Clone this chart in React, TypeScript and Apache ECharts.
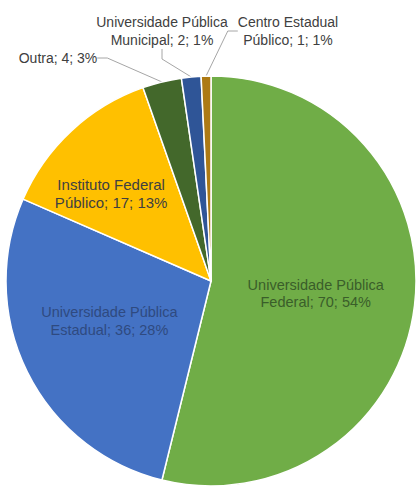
import React, { useEffect, useRef } from "react";
import * as echarts from "echarts";

const names = [
  "Universidade Pública Federal",
  "Universidade Pública Estadual",
  "Instituto Federal Público",
  "Outra",
  "Universidade Pública Municipal",
  "Centro Estadual Público",
];
const values = [70, 36, 17, 4, 2, 1];
const percents = [54, 28, 13, 3, 1, 1];
const colors = ["#70AD47", "#4472C4", "#FFC000", "#43682B", "#2F5597", "#AD7A14"];
const insideIdx = [0, 1, 2];

function labelText(idx: number): string {
  const n = names[idx];
  const k = n.lastIndexOf(" ");
  const tail = `${values[idx]}; ${percents[idx]}%`;
  if (k < 0) return `${n}; ${tail}`;
  return `${n.slice(0, k)}\n${n.slice(k + 1)}; ${tail}`;
}

const font = "'Liberation Sans', Arial, sans-serif";

export default function App() {
  const ref = useRef<HTMLDivElement>(null);
  useEffect(() => {
    if (!ref.current) return;
    const chart = echarts.init(ref.current, undefined, { renderer: "svg" });
    const data = names.map((name, i) => {
      const inside = insideIdx.includes(i);
      let label: any;
      if (i === 0) {
        label = { position: "inside", fontSize: 14.5, lineHeight: 17.5, color: "#3A5E2A" };
      } else if (i === 1) {
        label = { position: "inside", fontSize: 14.5, lineHeight: 17.5, color: "#2F4A80" };
      } else if (i === 2) {
        label = { position: "inside", fontSize: 15, lineHeight: 18.5, color: "#404040" };
      } else {
        label = { position: "outside", fontSize: 14, lineHeight: 18, color: "#404040" };
      }
      return {
        name,
        value: values[i],
        itemStyle: { color: colors[i] },
        label,
        labelLine: { show: !inside },
      };
    });
    const outsidePos: Record<number, [number, number]> = {
      3: [58, 58],
      4: [162, 31],
      5: [288, 31],
    };
    chart.setOption({
      animation: false,
      series: [
        {
          type: "pie",
          center: [211, 281],
          radius: 205,
          startAngle: 90,
          clockwise: true,
          avoidLabelOverlap: false,
          data,
          itemStyle: { borderColor: "#ffffff", borderWidth: 1.5 },
          label: {
            show: true,
            fontFamily: font,
            formatter: (p: any) => labelText(p.dataIndex),
            align: "center",
          },
          labelLine: {
            show: true,
            length: 10,
            length2: 10,
            lineStyle: { color: "#A6A6A6", width: 1 },
          },
          labelLayout: (params: any) => {
            const i = params.dataIndex;
            if (i === 1) return { dx: -7, dy: -7 };
            if (i === 2) return { dx: -28, dy: -10 };
            const pos = outsidePos[i];
            if (pos) return { x: pos[0], y: pos[1], align: "center", verticalAlign: "middle" };
            return {};
          },
        },
      ],
    });
    return () => chart.dispose();
  }, []);
  return (
    <div
      ref={ref}
      style={{ position: "absolute", left: 0, top: 0, width: 417, height: 486, background: "#ffffff" }}
    />
  );
}
